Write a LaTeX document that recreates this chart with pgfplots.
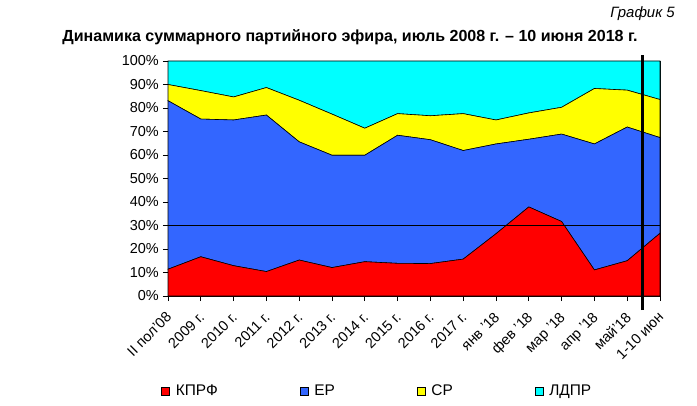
\documentclass[border=0pt]{standalone}
\usepackage{pgfplots}
\pgfplotsset{compat=1.18}
\usepackage{fontspec}
\setmainfont{Liberation Sans}
\definecolor{cKPRF}{HTML}{FF0000}
\definecolor{cER}{HTML}{3366FF}
\definecolor{cSR}{HTML}{FFFF00}
\definecolor{cLDPR}{HTML}{00FFFF}
\begin{document}
\begin{tikzpicture}
\path[use as bounding box] (-168bp,-110bp) rectangle (529bp,296bp);
\begin{axis}[
  at={(0,0)}, anchor=south west,
  scale only axis, width=492bp, height=235bp,
  xmin=0, xmax=15, ymin=0, ymax=100,
  stack plots=y,
  clip=false,
  axis line style={black, line width=0.8bp},
  xtick={0,...,15},
  xticklabels={II пол'08,2009 г.,2010 г.,2011 г.,2012 г.,2013 г.,2014 г.,2015 г.,2016 г.,2017 г.,янв '18,фев '18,мар '18,апр '18,май'18,1-10 июн},
  ytick={0,10,...,100},
  yticklabel={\pgfmathprintnumber{\tick}\%},
  /pgf/number format/assume math mode=true,
  tick style={black, line width=0.8bp},
  tick align=outside,
  major tick length=5bp,
  xtick pos=bottom, ytick pos=left,
  yticklabel style={font=\fontsize{14.5}{16}\selectfont, inner sep=1bp, xshift=-3bp},
  xticklabel style={font=\fontsize{14.5}{16}\selectfont, rotate=45, anchor=north east, inner sep=1bp, xshift=-8bp, yshift=-4bp},
  legend style={at={(rel axis cs:-0.02,-0.405)}, anchor=west, draw=none, fill=none,
    font=\fontsize{15.5}{17}\selectfont, legend columns=4,
    /tikz/every odd column/.append style={column sep=4bp},
    /tikz/every even column/.append style={column sep=80bp}},
  legend image code/.code={\draw[#1, draw=black, line width=0.5bp] (0bp,-4bp) rectangle (8bp,4bp);},
  every axis plot/.append style={draw=black, line width=0.6bp},
]
\addplot[fill=cKPRF] coordinates {(0,11.4) (1,16.7) (2,12.9) (3,10.4) (4,15.3) (5,12.1) (6,14.6) (7,13.9) (8,13.8) (9,15.7) (10,26.5) (11,37.9) (12,31.7) (13,11.1) (14,15.0) (15,26.7)} \closedcycle;
\addlegendentry{КПРФ}
\addplot[fill=cER] coordinates {(0,71.7) (1,58.6) (2,62.0) (3,66.6) (4,50.3) (5,47.8) (6,45.3) (7,54.5) (8,52.7) (9,46.2) (10,38.2) (11,28.8) (12,37.2) (13,53.6) (14,56.9) (15,40.7)} \closedcycle;
\addlegendentry{ЕР}
\addplot[fill=cSR] coordinates {(0,6.9) (1,12.1) (2,9.8) (3,11.7) (4,17.7) (5,17.5) (6,11.5) (7,9.2) (8,10.2) (9,15.7) (10,10.2) (11,11.2) (12,11.4) (13,23.6) (14,15.7) (15,16.2)} \closedcycle;
\addlegendentry{СР}
\addplot[fill=cLDPR] coordinates {(0,10.0) (1,12.6) (2,15.3) (3,11.3) (4,16.7) (5,22.6) (6,28.6) (7,22.4) (8,23.3) (9,22.4) (10,25.1) (11,22.1) (12,19.7) (13,11.7) (14,12.4) (15,16.4)} \closedcycle;
\addlegendentry{ЛДПР}
\coordinate (hA) at (axis cs:0,30);
\coordinate (hB) at (axis cs:15,30);
\coordinate (vA) at (axis cs:14.47,-6);
\coordinate (vB) at (axis cs:14.47,102.5);
\end{axis}
\draw[black, line width=0.8bp] (hA) -- (hB);
\draw[black, line width=3bp] (vA) -- (vB);
\node[anchor=base, font=\bfseries\fontsize{16.1}{18}\selectfont] at (182bp,254bp) {Динамика суммарного партийного эфира, июль 2008 г. – 10 июня 2018 г.};
\node[anchor=base east, font=\itshape\fontsize{15}{17}\selectfont, inner sep=0pt] at (507bp,278bp) {График 5};
\end{tikzpicture}
\end{document}
